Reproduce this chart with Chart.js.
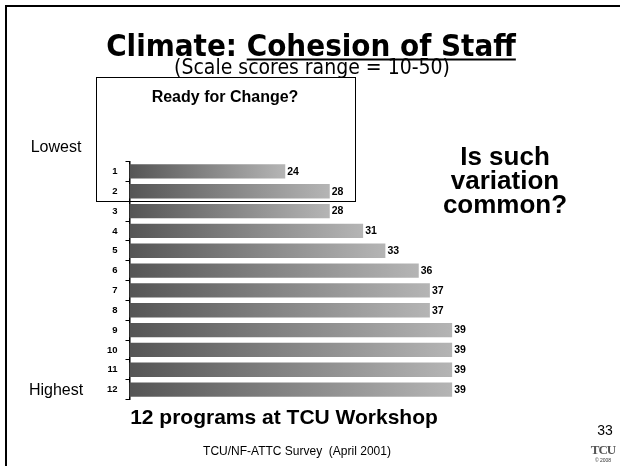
<!DOCTYPE html>
<html>
<head>
<meta charset="utf-8">
<script src="https://cdn.jsdelivr.net/npm/chart.js@4/dist/chart.umd.min.js"></script>
<style>
  html, body { margin: 0; padding: 0; background: #fff; }
  #slide { position: relative; width: 620px; height: 466px; overflow: hidden; }
  #frame { position: absolute; left: 5px; top: 5px; width: 620px; height: 466px;
           border-top: 2px solid #000; border-left: 2px solid #000; }
  #box { position: absolute; left: 96px; top: 77px; width: 258px; height: 123px;
         border: 1.5px solid #000; }
  canvas { position: absolute; left: 0; top: 0; }
  .t { position: absolute; white-space: pre; line-height: 1; color: #000;
       transform: translate(-50%, -50%); font-family: "Liberation Sans", Arial, sans-serif; }
  .cond { font-family: "DejaVu Sans Condensed", "DejaVu Sans", sans-serif; font-stretch: condensed; }
  .u { text-decoration: underline; text-decoration-thickness: 2px; text-underline-offset: 3px; }
</style>
</head>
<body>
<div id="slide">
  <div id="frame"></div>
  <div id="box"></div>
  <canvas id="cohesion" width="620" height="466"></canvas>

  <div class="t cond" style="left:311px; top:45px; font-size:31px; font-weight:bold;">Climate: <span class="u">Cohesion of Staff</span></div>
  <div class="t cond" style="left:312px; top:67px; font-size:21px;">(Scale scores range = 10-50)</div>
  <div class="t" style="left:225px; top:97px; font-size:16px; font-weight:bold;">Ready for Change?</div>
  <div class="t" style="left:56px; top:147px; font-size:16px;">Lowest</div>
  <div class="t" style="left:56px; top:390px; font-size:16px;">Highest</div>
  <div class="t" style="left:505px; top:181px; font-size:26px; font-weight:bold; text-align:center; line-height:0.92;">Is such
variation
common?</div>
  <div class="t" style="left:284px; top:416px; font-size:21px; font-weight:bold;">12 programs at TCU Workshop</div>
  <div class="t" style="left:297px; top:451px; font-size:12px;">TCU/NF-ATTC Survey  (April 2001)</div>
  <div class="t" style="left:605px; top:430px; font-size:14px;">33</div>
  <div class="t" style="left:603px; top:449px; font-size:13px; font-weight:bold; color:#555; font-family:'Liberation Serif', serif; letter-spacing:-1px;">TCU</div>
  <div class="t" style="left:603px; top:460px; font-size:5px; color:#333;">© 2008</div>
</div>

<script>
// programs ordered lowest to highest
const programs = ['1', '2', '3', '4', '5', '6', '7', '8', '9', '10', '11', '12'];
const scores = [24, 28, 28, 31, 33, 36, 37, 37, 39, 39, 39, 39];
const scaleMin = 10;
const scaleMax = 50;

// each bar fades from dark grey to light grey along its own length
function barFill(c) {
  const x = c.chart.scales.x;
  if (!x || c.raw === undefined) return '#888888';
  const x0 = x.getPixelForValue(scaleMin);
  const x1 = x.getPixelForValue(c.raw);
  if (!isFinite(x0) || !isFinite(x1)) return '#888888';
  const g = c.chart.ctx.createLinearGradient(x0, 0, x1, 0);
  g.addColorStop(0, '#555555');
  g.addColorStop(1, '#b5b5b5');
  return g;
}

const valueLabels = {
  id: 'valueLabels',
  afterDatasetsDraw(chart) {
    const ctx = chart.ctx;
    const meta = chart.getDatasetMeta(0);
    ctx.save();
    ctx.font = 'bold 10.5px "Liberation Sans", Arial, sans-serif';
    ctx.fillStyle = '#000';
    ctx.textAlign = 'left';
    ctx.textBaseline = 'middle';
    meta.data.forEach((bar, i) => {
      ctx.fillText(String(scores[i]), bar.x + 2, bar.y + 0.5);
    });
    ctx.restore();
  }
};

const chart = new Chart(document.getElementById('cohesion'), {
  type: 'bar',
  data: {
    labels: programs,
    datasets: [{
      data: scores,
      backgroundColor: barFill,
      borderWidth: 0
    }]
  },
  options: {
    indexAxis: 'y',
    responsive: false,
    animation: false,
    layout: { padding: { left: 0, top: 161.5, right: 45.5, bottom: 66.5 } },
    plugins: {
      legend: { display: false },
      tooltip: { enabled: false }
    },
    scales: {
      x: { display: false, min: scaleMin, max: scaleMax },
      y: {
        afterFit(scale) { scale.width = 129.5; },
        grid: { drawOnChartArea: false, color: '#000', tickLength: 4, lineWidth: 1 },
        border: { color: '#000', width: 1.5 },
        ticks: {
          color: '#000',
          padding: 8,
          font: { family: '"Liberation Sans", Arial, sans-serif', size: 9.5, weight: 'bold' }
        }
      }
    }
  },
  plugins: [valueLabels]
});
chart.update();
</script>
</body>
</html>
